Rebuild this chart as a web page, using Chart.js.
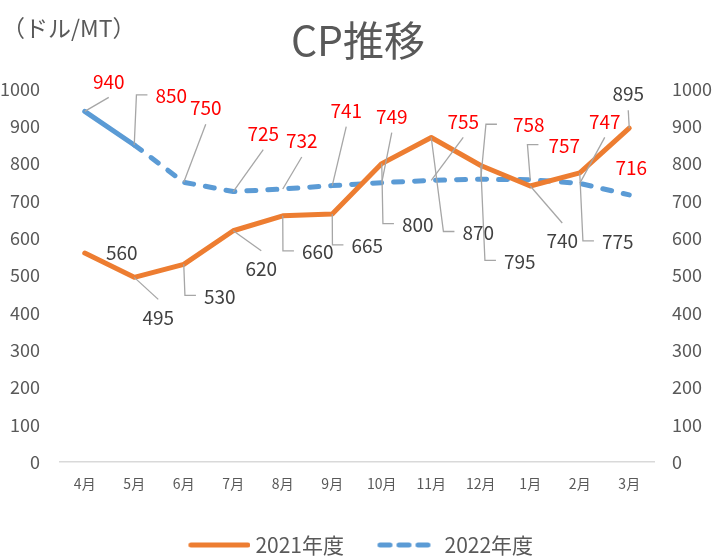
<!DOCTYPE html>
<html><head><meta charset="utf-8">
<script src="https://cdn.jsdelivr.net/npm/chart.js@4/dist/chart.umd.min.js"></script>
<style>html,body{margin:0;padding:0;background:#fff}#wrap{width:716px;height:556px}</style>
</head><body><div id="wrap"><canvas id="c" width="716" height="556"></canvas></div>
<script>
// ---- data ----
const categories = ['4月','5月','6月','7月','8月','9月','10月','11月','12月','1月','2月','3月'];
const series2021 = [560, 495, 530, 620, 660, 665, 800, 870, 795, 740, 775, 895];
const series2022 = [940, 850, 750, 725, 732, 741, 749, 755, 758, 757, 747, 716];
const seriesNames = ['2021年度', '2022年度'];
const chartTitle = 'CP推移';
const unitLabel = '（ドル/MT）';
const yMin = 0, yMax = 1000, yStep = 100;

// ---- label placement (layout only): [dx, dy, leader, gap] leader 0 none, 1 straight, 2 elbow ----
const labelLayout2021 = [[37,0,0],[24,40,1],[36,32,2],[28,38,1],[35,36,2],[35,32,2],[36,61,2],[47,95,2],[39,96,2],[32,55,1],[38,69,2],[-1,-34,1]];
const labelLayout2022 = [[24,-30,1],[37,-49,2],[22,-74,1],[30,-58,1],[19,-48,1],[14,-75,1],[10,-66,1],[32,-59,1],[48,-54,2,16],[34,-34,2,10],[25,-62,1],[2,-27,0]];

const FONT = '"Noto Sans CJK JP", "Noto Sans", sans-serif';
const ORANGE = '#ED7D31', BLUE = '#5B9BD5', GRAY_TXT = '#595959';
const LEGEND_PAD = 28;
const LEGEND_FONT = 21;
const DASH = [9, 12];

// legend sample images (line drawn in right 62px of a 73px-wide image)
function legendSample(color, dash) {
  const cv = document.createElement('canvas');
  cv.width = 73; cv.height = 8;
  const c = cv.getContext('2d');
  c.strokeStyle = color; c.lineWidth = 5; c.lineCap = 'round';
  c.setLineDash(dash);
  c.beginPath(); c.moveTo(11 + 2.5, 4); c.lineTo(73 - 2.5, 4); c.stroke();
  return cv;
}
const legendImgs = [legendSample(ORANGE, []), legendSample(BLUE, [10, 9])];

const dataLabelPlugin = {
  id: 'dataLabels',
  afterDatasetsDraw(chart) {
    const ctx = chart.ctx;
    const cfgs = [
      {layout: labelLayout2021, color: '#404040'},
      {layout: labelLayout2022, color: '#FF0000'}
    ];
    ctx.save();
    ctx.font = '19px ' + FONT;
    ctx.textAlign = 'center';
    ctx.textBaseline = 'middle';
    chart.data.datasets.forEach((ds, di) => {
      const meta = chart.getDatasetMeta(di);
      const cfg = cfgs[di];
      meta.data.forEach((pt, i) => {
        const [dx, dy, kind, gapOpt] = cfg.layout[i];
        const gap = gapOpt || 8;
        const lx = pt.x + dx, ly = pt.y + dy;
        const txt = String(ds.data[i]);
        const w = ctx.measureText(txt).width;
        ctx.strokeStyle = '#a6a6a6';
        ctx.lineWidth = 1.3;
        ctx.setLineDash([]);
        if (kind === 1) {
          ctx.beginPath();
          ctx.moveTo(pt.x, pt.y);
          ctx.lineTo(lx, ly + (dy < 0 ? 16 : -18));
          ctx.stroke();
        } else if (kind === 2) {
          const left = lx - w / 2;
          ctx.beginPath();
          ctx.moveTo(pt.x, pt.y);
          ctx.lineTo(left - gap - 11, ly - 1);
          ctx.lineTo(left - gap, ly - 1);
          ctx.stroke();
        }
        ctx.fillStyle = cfg.color;
        ctx.fillText(txt, lx, ly);
      });
    });
    ctx.restore();
  },
  afterDraw(chart) {
    const ctx = chart.ctx;
    ctx.save();
    ctx.fillStyle = GRAY_TXT;
    ctx.font = '23px ' + FONT;
    ctx.textAlign = 'left';
    ctx.textBaseline = 'middle';
    ctx.fillText(unitLabel, 2, 28);
    ctx.restore();
  }
};

const legendShift = {
  id: 'legendShift',
  afterLayout(chart) {
    const lg = chart.legend;
    if (lg) {
      const d = (545 - LEGEND_PAD - LEGEND_FONT / 2) - lg.top;
      lg.top += d; lg.bottom += d;
    }
  }
};

const tickFmt = v => String(v);

new Chart(document.getElementById('c'), {
  type: 'line',
  data: {
    labels: categories,
    datasets: [
      {label: seriesNames[0], data: series2021, borderColor: ORANGE, backgroundColor: ORANGE,
       borderWidth: 5, pointRadius: 0, borderCapStyle: 'round', borderJoinStyle: 'round', tension: 0, yAxisID: 'y'},
      {label: seriesNames[1], data: series2022, borderColor: BLUE, backgroundColor: BLUE,
       borderWidth: 5, pointRadius: 0, borderCapStyle: 'round', borderJoinStyle: 'round', tension: 0,
       borderDash: DASH, yAxisID: 'y',
       segment: {borderDash: c => c.p0DataIndex === 0 ? [] : DASH}}
    ]
  },
  options: {
    responsive: false, animation: false, devicePixelRatio: 1,
    layout: {padding: {left: 0, right: 0, top: 0, bottom: 0}},
    plugins: {
      title: {display: true, text: chartTitle, color: GRAY_TXT,
              font: {size: 41, family: FONT, weight: 'normal', lineHeight: 1.2},
              padding: {top: 16, bottom: 23.8}},
      legend: {position: 'bottom',
               labels: {usePointStyle: true, pointStyleWidth: 62,
                        color: GRAY_TXT, font: {size: LEGEND_FONT, family: FONT}, padding: LEGEND_PAD,
                        generateLabels: chart => chart.data.datasets.map((ds, i) => ({
                          text: ds.label, fillStyle: ds.borderColor, strokeStyle: ds.borderColor,
                          lineWidth: 0, pointStyle: legendImgs[i], fontColor: GRAY_TXT,
                          hidden: false, datasetIndex: i
                        }))}},
      tooltip: {enabled: false}
    },
    scales: {
      x: {offset: true, grid: {display: false, drawTicks: false},
          border: {display: true, color: '#d9d9d9', width: 1.5},
          ticks: {color: GRAY_TXT, font: {size: 14, family: FONT}, padding: 13, maxRotation: 0},
          afterFit: s => { s.height = 35; }},
      y: {position: 'left', min: yMin, max: yMax,
          grid: {display: false, drawTicks: false}, border: {display: false},
          ticks: {stepSize: yStep, color: GRAY_TXT, font: {size: 18, family: FONT}, padding: 20, callback: tickFmt},
          afterFit: s => { s.width = 60; }},
      y2: {position: 'right', min: yMin, max: yMax,
          grid: {display: false, drawTicks: false}, border: {display: false},
          ticks: {stepSize: yStep, color: GRAY_TXT, font: {size: 18, family: FONT}, padding: 18, callback: tickFmt},
          afterFit: s => { s.width = 62; }}
    }
  },
  plugins: [dataLabelPlugin, legendShift]
});
</script></body></html>
